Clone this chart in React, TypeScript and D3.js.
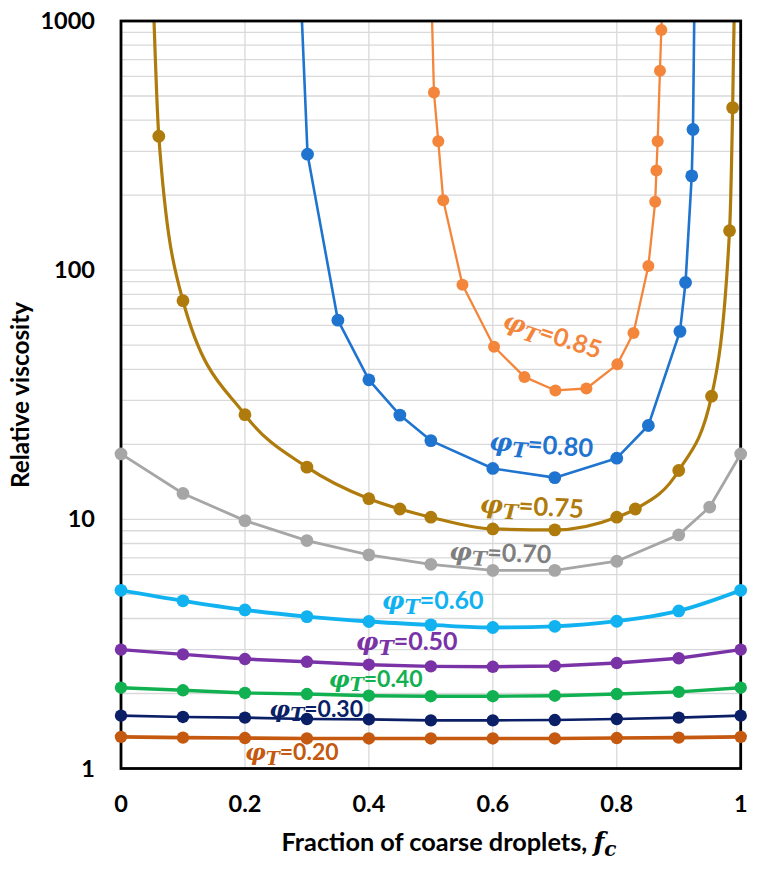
import React from "react";
import * as d3 from "d3";

// ---------- data ----------
const xTicks = [0, 0.2, 0.4, 0.6, 0.8, 1];
const xTickLabels = ["0", "0.2", "0.4", "0.6", "0.8", "1"];
const yTicks = [1, 10, 100, 1000];
const yTickLabels = ["1", "10", "100", "1000"];

const fcStd = [0, 0.1, 0.2, 0.3, 0.4, 0.5, 0.6, 0.7, 0.8, 0.9, 1];

const fc085 = [0.505, 0.512, 0.52, 0.551, 0.602, 0.651, 0.701, 0.751, 0.801, 0.827, 0.851, 0.862, 0.864, 0.866, 0.8697, 0.8719];
const v085 = [516, 329, 191, 87.4, 49.3, 37.3, 32.9, 33.5, 41.9, 56, 104, 188, 251, 329, 631, 921];
const ext085 = [[0.502, 1000], [0.8725, 1000]];

const fc080 = [0.301, 0.35, 0.4, 0.45, 0.5, 0.6, 0.7, 0.8, 0.851, 0.902, 0.911, 0.921, 0.923];
const v080 = [292, 63, 36.3, 26.2, 20.7, 16.0, 14.7, 17.6, 23.8, 56.8, 89.3, 239, 367];
const ext080 = [[0.292, 1000], [0.925, 1000]];

const fc075 = [0.061, 0.1, 0.2, 0.3, 0.4, 0.45, 0.5, 0.6, 0.7, 0.8, 0.83, 0.9, 0.953, 0.982, 0.987];
const v075 = [345, 75.4, 26.3, 16.2, 12.1, 11.0, 10.2, 9.15, 9.07, 10.2, 11.0, 15.7, 31.2, 144, 449];
const ext075 = [[0.0533, 1000], [0.9893, 1000]];

const fc070 = [0, 0.1, 0.2, 0.3, 0.4, 0.5, 0.6, 0.7, 0.8, 0.9, 0.95, 1];
const v070 = [18.3, 12.7, 9.88, 8.22, 7.2, 6.6, 6.24, 6.24, 6.79, 8.66, 11.2, 18.3];

const v060 = [5.19, 4.71, 4.33, 4.07, 3.89, 3.77, 3.68, 3.72, 3.9, 4.29, 5.19];
const v050 = [3.0, 2.87, 2.75, 2.68, 2.61, 2.57, 2.56, 2.58, 2.65, 2.77, 3.0];
const v040 = [2.11, 2.06, 2.01, 1.99, 1.96, 1.95, 1.95, 1.96, 1.99, 2.03, 2.11];
const v030 = [1.63, 1.61, 1.6, 1.58, 1.575, 1.56, 1.56, 1.565, 1.58, 1.6, 1.63];
const v020 = [1.34, 1.33, 1.325, 1.32, 1.32, 1.32, 1.32, 1.32, 1.325, 1.33, 1.34];

// label texts and anchor positions in data coordinates (fc, viscosity)
const labelValues = ["0.85", "0.80", "0.75", "0.70", "0.60", "0.50", "0.40", "0.30", "0.20"];
const labelFc = [0.696, 0.678, 0.663, 0.612, 0.503, 0.461, 0.411, 0.315, 0.2755];
const labelV = [54.4, 19.7, 11.15, 7.26, 4.68, 3.19, 2.27, 1.72, 1.154];
const labelRot = [18, 4, 3, 2, 0, 0, 0, 0, 0];

// ---------- layout / style ----------
const W = 761;
const H = 871;
const PL = 121, PR = 740.7, PT = 21, PB = 768.5;

const x = d3.scaleLinear().domain([0, 1]).range([PL, PR]);
const y = d3.scaleLog().domain([1, 1000]).range([PB, PT]);

type Series = {
  fc: number[];
  v: number[];
  ext?: number[][];
  color: string;
  width: number;
  r: number;
  smooth?: boolean;
};

const series: Series[] = [
  { fc: fcStd, v: v020, color: "#C4590F", width: 3.6, r: 6.2 },
  { fc: fcStd, v: v030, color: "#0B1F66", width: 2.6, r: 6.2 },
  { fc: fcStd, v: v040, color: "#11B050", width: 3.4, r: 6.2 },
  { fc: fcStd, v: v050, color: "#7A33A6", width: 3.4, r: 6.2 },
  { fc: fcStd, v: v060, color: "#11B2EF", width: 3.8, r: 6.4, smooth: true },
  { fc: fc070, v: v070, color: "#A6A6A6", width: 2.8, r: 6.4 },
  { fc: fc075, v: v075, ext: ext075, color: "#AF7B0C", width: 3.2, r: 6.4, smooth: true },
  { fc: fc080, v: v080, ext: ext080, color: "#1F74D0", width: 2.6, r: 6.4 },
  { fc: fc085, v: v085, ext: ext085, color: "#F4863C", width: 2.3, r: 6 },
];

const labelColors = ["#F4863C", "#1F74D0", "#AF7B0C", "#7F7F7F", "#11B2EF", "#7A33A6", "#11B050", "#0B1F66", "#C4590F"];
const labelSize = [25, 25.5, 25.5, 25, 25, 25, 23, 23, 23];

const gridY: number[] = [];
for (let k = 0; k < 3; k++) {
  for (let m = 1; m <= 9; m++) {
    const v = m * Math.pow(10, k);
    if (v > 1 && v < 1000) gridY.push(v);
  }
}
const gridX = [0.2, 0.4, 0.6, 0.8];

const SANS = "Lato, 'Open Sans', sans-serif";
const SERIF = "'DejaVu Serif', serif";

export default function App() {
  return (
    <svg
      width={W}
      height={H}
      viewBox={`0 0 ${W} ${H}`}
      style={{ position: "absolute", left: 0, top: 0, background: "#fff" }}
    >
      <defs>
        <clipPath id="plotClip">
          <rect x={PL} y={PT} width={PR - PL} height={PB - PT} />
        </clipPath>
      </defs>
      <rect x={0} y={0} width={W} height={H} fill="#fff" />

      {/* grid */}
      <g stroke="#D9D9D9" strokeWidth={1.3}>
        {gridY.map((v) => (
          <line key={"gy" + v} x1={PL} x2={PR} y1={y(v)} y2={y(v)} />
        ))}
        {gridX.map((v) => (
          <line key={"gx" + v} x1={x(v)} x2={x(v)} y1={PT} y2={PB} />
        ))}
      </g>

      {/* lines */}
      <g clipPath="url(#plotClip)">
        {series.map((s, i) => {
          let pts: number[][] = s.fc.map((f, j) => [f, s.v[j]]);
          if (s.ext) pts = [s.ext[0], ...pts, s.ext[1]];
          const gen = d3
            .line<number[]>()
            .x((d) => x(d[0]))
            .y((d) => y(d[1]))
            .curve(s.smooth ? d3.curveMonotoneX : d3.curveLinear);
          return (
            <path
              key={"l" + i}
              d={gen(pts) || ""}
              fill="none"
              stroke={s.color}
              strokeWidth={s.width}
              strokeLinejoin="round"
            />
          );
        })}
      </g>

      {/* frame */}
      <rect
        x={PL}
        y={PT}
        width={PR - PL}
        height={PB - PT}
        fill="none"
        stroke="#000"
        strokeWidth={2.8}
      />

      {/* markers */}
      {series.map((s, i) => (
        <g key={"m" + i} fill={s.color}>
          {s.fc.map((f, j) => (
            <circle key={j} cx={x(f)} cy={y(s.v[j])} r={s.r} />
          ))}
        </g>
      ))}

      {/* x tick labels */}
      <g fontFamily={SANS} fontWeight={700} fontSize={23.5} fill="#000" textAnchor="middle">
        {xTicks.map((t, i) => (
          <text key={"xt" + i} x={x(t)} y={812}>
            {xTickLabels[i]}
          </text>
        ))}
      </g>
      {/* y tick labels */}
      <g fontFamily={SANS} fontWeight={700} fontSize={23.5} fill="#000" textAnchor="end">
        {yTicks.map((t, i) => (
          <text key={"yt" + i} x={95} y={y(t) + 8}>
            {yTickLabels[i]}
          </text>
        ))}
      </g>

      {/* axis titles */}
      <text
        x={449}
        y={851}
        textAnchor="middle"
        fontFamily={SANS}
        fontWeight={700}
        fontSize={25.3}
        fill="#000"
      >
        Fraction of coarse droplets,{" "}
        <tspan fontFamily={SERIF} fontStyle="italic" fontWeight={700}>
          f
        </tspan>
        <tspan fontFamily={SERIF} fontStyle="italic" fontWeight={700} fontSize={20} dy={5}>
          c
        </tspan>
      </text>
      <text
        transform={`translate(29, 395) rotate(-90)`}
        textAnchor="middle"
        fontFamily={SANS}
        fontWeight={700}
        fontSize={24.3}
        fill="#000"
      >
        Relative viscosity
      </text>

      {/* series labels */}
      {labelValues.map((lv, i) => {
        const fs = labelSize[i];
        return (
          <text
            key={"lab" + i}
            transform={`translate(${x(labelFc[i])}, ${y(labelV[i])}) rotate(${labelRot[i]})`}
            y={fs * 0.3}
            textAnchor="middle"
            fontFamily={SANS}
            fontWeight={700}
            fontSize={fs}
            fill={labelColors[i]}
          >
            <tspan fontFamily={SERIF} fontStyle="italic" fontWeight={700}>
              φ
            </tspan>
            <tspan fontFamily={SERIF} fontStyle="italic" fontWeight={700} fontSize={fs * 0.82} dy={fs * 0.2}>
              T
            </tspan>
            <tspan dy={-fs * 0.2}>={lv}</tspan>
          </text>
        );
      })}
    </svg>
  );
}
